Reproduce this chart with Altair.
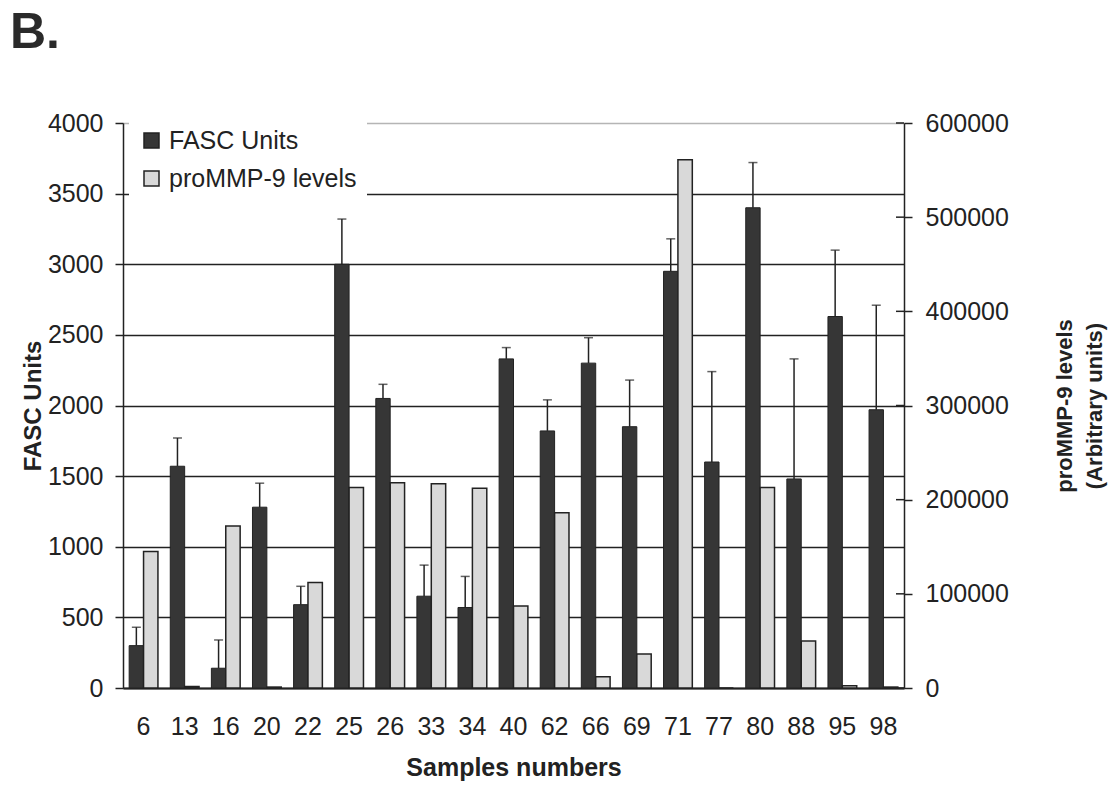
import altair as alt
import pandas as pd

# Samples and measured values
samples = ["6", "13", "16", "20", "22", "25", "26", "33", "34", "40",
           "62", "66", "69", "71", "77", "80", "88", "95", "98"]
fasc_units = [300, 1570, 140, 1280, 590, 3000, 2050, 650, 570, 2330,
              1820, 2300, 1850, 2950, 1600, 3400, 1480, 2630, 1970]
fasc_upper = [430, 1770, 340, 1450, 720, 3320, 2150, 870, 790, 2410,
              2040, 2480, 2180, 3180, 2240, 3720, 2330, 3100, 2710]
prommp9 = [145000, 1500, 172000, 1000, 112000, 213000, 218000, 217000, 212000, 87000,
           186000, 12000, 36000, 561000, 0, 213000, 50000, 2500, 1000]

series_names = ["FASC Units", "proMMP-9 levels"]
right_ticks = [0, 100000, 200000, 300000, 400000, 500000, 600000]

FONT = "Liberation Sans"
INK = "#222222"
DARK = "#363636"
LIGHT = "#d9d9d9"
W, H = 781, 565
RATIO = 150  # 600000 / 4000: the two y scales line up

fasc_df = pd.DataFrame({
    "sample": samples,
    "series": series_names[0],
    "fasc": fasc_units,
    "fasc_hi": fasc_upper,
})
mmp_df = pd.DataFrame({
    "sample": samples,
    "series": series_names[1],
    "mmp": prommp9,
})
tick_df = pd.DataFrame({"v": right_ticks})

x_enc = alt.X(
    "sample:N", sort=samples,
    scale=alt.Scale(paddingInner=0.3, paddingOuter=0.15),
    axis=alt.Axis(
        title="Samples numbers", labelAngle=0, labelFontSize=25, labelFont=FONT,
        labelColor=INK, labelPadding=26, tickSize=0, domainColor=INK, domainWidth=2,
        titleFont=FONT, titleFontSize=25, titleFontWeight="bold", titleColor=INK,
        titlePadding=16,
    ),
)
xoff = alt.XOffset("series:N", scale=alt.Scale(domain=series_names))
color_enc = alt.Color(
    "series:N",
    scale=alt.Scale(domain=series_names, range=[DARK, LIGHT]),
    legend=alt.Legend(
        title=None, orient="none", legendX=6, legendY=-5, padding=10,
        fillColor="white", symbolType="square", symbolSize=225,
        symbolStrokeColor=INK, symbolStrokeWidth=1.5, labelFont=FONT,
        labelFontSize=25, labelColor=INK, labelOffset=5, rowPadding=12,
        labelLimit=400,
    ),
)

y_left = alt.Y(
    "fasc:Q",
    scale=alt.Scale(domain=[0, 4000], nice=False),
    axis=alt.Axis(
        title="FASC Units", values=list(range(0, 4001, 500)), format="d", grid=True,
        gridColor={"condition": {"test": "datum.value === 4000", "value": "#b5b5b5"},
                   "value": INK},
        gridWidth=1.4, tickSize=8, tickColor=INK, tickWidth=1.5, domainColor=INK,
        domainWidth=1.5, labelFont=FONT, labelFontSize=25, labelColor=INK,
        labelPadding=12, titleFont=FONT, titleFontSize=24, titleFontWeight="bold",
        titleColor=INK, titlePadding=2,
    ),
)

fasc_bars = alt.Chart(fasc_df).mark_bar(stroke=INK, strokeWidth=1).encode(
    x=x_enc, xOffset=xoff, y=y_left, color=color_enc,
)
err_rule = alt.Chart(fasc_df).mark_rule(color=INK, strokeWidth=1.5).encode(
    x=alt.X("sample:N", sort=samples), xOffset=xoff,
    y="fasc:Q", y2="fasc_hi:Q",
)
err_cap = alt.Chart(fasc_df).mark_tick(color=INK, size=9, thickness=1.5).encode(
    x=alt.X("sample:N", sort=samples), xOffset=xoff,
    y="fasc_hi:Q",
)
# inner half of the right-axis ticks, so they cross the axis line
inner_ticks = alt.Chart(tick_df).transform_calculate(
    fasc=f"datum.v / {RATIO}"
).mark_rule(color=INK, strokeWidth=1.5).encode(
    x=alt.value(W - 8), x2=alt.value(W),
    y="fasc:Q",
)

y_right = alt.Y(
    "mmp:Q",
    scale=alt.Scale(domain=[0, 600000], nice=False),
    axis=alt.Axis(
        orient="right", title=["proMMP-9 levels", "(Arbitrary units)"],
        values=right_ticks, format="d", grid=False, tickSize=8, tickColor=INK,
        tickWidth=1.5, domainColor=INK, domainWidth=1.5, labelFont=FONT,
        labelFontSize=25, labelColor=INK, labelPadding=13, titleFont=FONT,
        titleFontSize=22, titleFontWeight="bold", titleColor=INK, titleAngle=270,
        titleLineHeight=30, titlePadding=38,
    ),
)
mmp_bars = alt.Chart(mmp_df).mark_bar(stroke=INK, strokeWidth=1.5).encode(
    x=alt.X("sample:N", sort=samples), xOffset=xoff, y=y_right, color=color_enc,
)

left = alt.layer(fasc_bars, err_rule, err_cap, inner_ticks)

chart = alt.layer(left, mmp_bars).resolve_scale(y="independent").properties(
    width=W, height=H,
    title=alt.TitleParams("B.", anchor="start", frame="group", font=FONT,
                          fontSize=50, fontWeight="bold", color="#2a2a2a",
                          dx=-113, offset=53),
    autosize="none",
    padding={"left": 123, "top": 123, "right": 1117 - 123 - W, "bottom": 788 - 123 - H},
).configure_view(stroke=None).configure(background="white")

chart.save("out.html", embed_options={"renderer": "svg", "actions": False})
